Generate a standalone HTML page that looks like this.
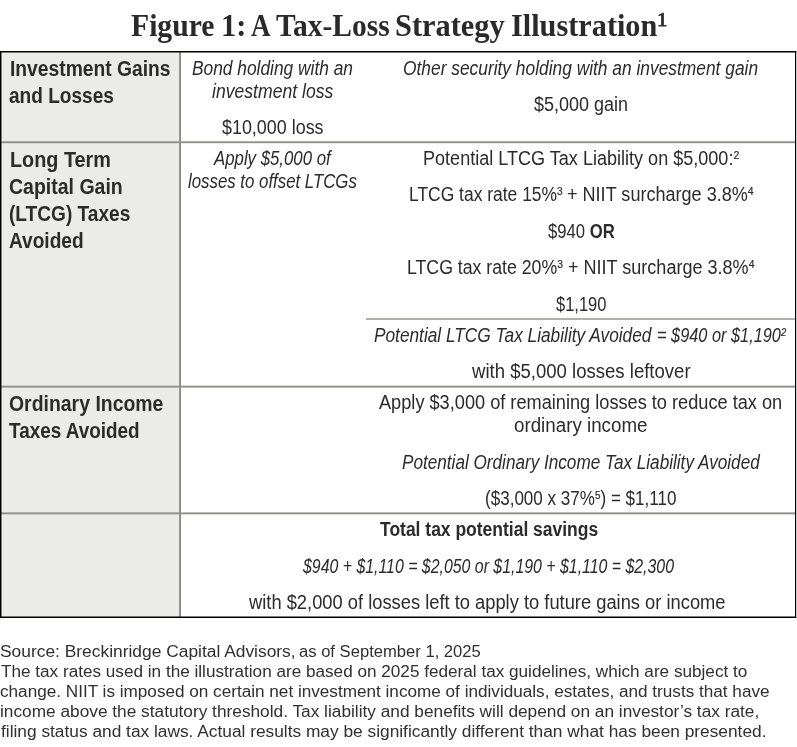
<!DOCTYPE html>
<html lang="en"><head><meta charset="utf-8"><title>Figure 1: A Tax-Loss Strategy Illustration</title>
<style>
html,body{margin:0;padding:0;background:#fff;}
body{width:797px;height:747px;position:relative;overflow:hidden;font-family:"Liberation Sans", Arial, sans-serif;color:#2b2b2b;}
.ln{position:absolute;display:block;white-space:nowrap;transform-origin:0 0;line-height:30px;height:30px;}
.r{font-weight:400;font-style:normal;}
.i{font-style:italic;}
.b{font-weight:700;}
.f{font-weight:400;color:#303030;}
.t{font-family:"Liberation Serif", "Times New Roman", serif;font-weight:700;color:#2a2a2a;}
.ln b{font-weight:700;}
.ln sup{font-size:58%;vertical-align:baseline;position:relative;top:-0.575em;line-height:0;letter-spacing:0;-webkit-text-stroke:0.2px currentColor;}
.t sup{font-size:54%;top:-0.56em;}
.grp{margin:0;padding:0;font-size:16px;font-weight:400;position:static;}
</style></head>
<body>

<svg class="grid" width="797" height="747" viewBox="0 0 797 747" style="position:absolute;left:0;top:0">
<rect x="0" y="52" width="180" height="565.5" fill="#ebebe9"/>
<rect x="179.1" y="52" width="1.9" height="565" fill="#8c8f89"/>
<rect x="0" y="141.3" width="796" height="1.9" fill="#8e918b"/>
<rect x="0" y="385.7" width="796" height="1.9" fill="#8e918b"/>
<rect x="0" y="512.4" width="796" height="1.9" fill="#8e918b"/>
<rect x="366" y="318" width="430" height="2" fill="#afb1ab"/>
<rect x="0" y="51" width="796.2" height="1.5" fill="#000"/>
<rect x="0" y="616.5" width="796.2" height="1.5" fill="#000"/>
<rect x="0" y="51" width="1.45" height="567" fill="#000"/>
<rect x="795" y="51" width="1.2" height="567" fill="#000"/>
</svg>
<h1 class="grp">
<span class="ln t" style="left:131.17px;top:11px;font-size:31px;transform:scaleX(0.9572)">Figure</span>
<span class="ln t" style="left:220.74px;top:11px;font-size:31px;transform:scaleX(0.9832)">1:</span>
<span class="ln t" style="left:251.21px;top:11px;font-size:31px;transform:scaleX(0.8743)">A</span>
<span class="ln t" style="left:276.32px;top:11px;font-size:31px;transform:scaleX(0.9517)">Tax-Loss</span>
<span class="ln t" style="left:395.17px;top:11px;font-size:31px;transform:scaleX(0.9808)">Strategy</span>
<span class="ln t" style="left:511.33px;top:11px;font-size:31px;transform:scaleX(0.9766)">Illustration</span>
<span class="ln t" style="left:656.62px;top:5px;font-size:19px;transform:scaleX(1.0954);font-weight:400;-webkit-text-stroke:0.75px #2a2a2a">1</span>
</h1>
<div class="grp tbl">
<span class="ln b" style="left:9.69px;top:54px;font-size:21.3px;transform:scaleX(0.9042)">Investment Gains</span>
<span class="ln b" style="left:9.19px;top:81px;font-size:21.3px;transform:scaleX(0.8954)">and Losses</span>
<span class="ln b" style="left:9.65px;top:145px;font-size:21.3px;transform:scaleX(0.9309)">Long Term</span>
<span class="ln b" style="left:9.23px;top:172px;font-size:21.3px;transform:scaleX(0.9152)">Capital Gain</span>
<span class="ln b" style="left:9.20px;top:199px;font-size:21.3px;transform:scaleX(0.8966)">(LTCG) Taxes</span>
<span class="ln b" style="left:8.96px;top:226px;font-size:21.3px;transform:scaleX(0.8968)">Avoided</span>
<span class="ln b" style="left:8.83px;top:389px;font-size:21.3px;transform:scaleX(0.9124)">Ordinary Income</span>
<span class="ln b" style="left:9.36px;top:416px;font-size:21.3px;transform:scaleX(0.8880)">Taxes Avoided</span>
<span class="ln i" style="left:192.38px;top:53px;font-size:19.5px;transform:scaleX(0.8893)">Bond holding with an</span>
<span class="ln i" style="left:211.71px;top:76px;font-size:19.5px;transform:scaleX(0.9027)">investment loss</span>
<span class="ln r" style="left:222.27px;top:112px;font-size:19.5px;transform:scaleX(0.9182)">$10,000 loss</span>
<span class="ln i" style="left:402.77px;top:53px;font-size:19.5px;transform:scaleX(0.8901)">Other security holding with an investment gain</span>
<span class="ln r" style="left:534.26px;top:89px;font-size:19.5px;transform:scaleX(0.9233)">$5,000 gain</span>
<span class="ln i" style="left:214.46px;top:143px;font-size:19.5px;transform:scaleX(0.8612)">Apply $5,000 of</span>
<span class="ln i" style="left:188.43px;top:166px;font-size:19.5px;transform:scaleX(0.8623)">losses to offset LTCGs</span>
<span class="ln r" style="left:422.91px;top:143px;font-size:19.5px;transform:scaleX(0.9258)">Potential LTCG Tax Liability on $5,000:<sup>2</sup></span>
<span class="ln r" style="left:408.66px;top:179px;font-size:19.5px;transform:scaleX(0.8948)">LTCG tax rate 15%<sup>3</sup></span>
<span class="ln r" style="left:566.82px;top:179px;font-size:19.5px;transform:scaleX(0.9260)">+ NIIT surcharge 3.8%<sup>4</sup></span>
<span class="ln r" style="left:547.60px;top:216px;font-size:19.5px;transform:scaleX(0.8559)">$940 <b>OR</b></span>
<span class="ln r" style="left:407.44px;top:252px;font-size:19.5px;transform:scaleX(0.9078)">LTCG tax rate 20%<sup>3</sup></span>
<span class="ln r" style="left:567.52px;top:252px;font-size:19.5px;transform:scaleX(0.9250)">+ NIIT surcharge 3.8%<sup>4</sup></span>
<span class="ln r" style="left:555.71px;top:289px;font-size:19.5px;transform:scaleX(0.8460)">$1,190</span>
<span class="ln i" style="left:374.49px;top:320px;font-size:19.5px;transform:scaleX(0.8855)">Potential LTCG Tax Liability Avoided</span>
<span class="ln i" style="left:656.83px;top:320px;font-size:19.5px;transform:scaleX(0.8373)">= $940 or $1,190<sup>2</sup></span>
<span class="ln r" style="left:471.56px;top:356px;font-size:19.5px;transform:scaleX(0.9513)">with $5,000 losses leftover</span>
<span class="ln r" style="left:379.35px;top:387px;font-size:19.5px;transform:scaleX(0.9321)">Apply $3,000 of remaining losses to reduce tax on</span>
<span class="ln r" style="left:514.08px;top:410px;font-size:19.5px;transform:scaleX(0.9619)">ordinary income</span>
<span class="ln i" style="left:401.59px;top:447px;font-size:19.5px;transform:scaleX(0.8793)">Potential Ordinary Income Tax Liability Avoided</span>
<span class="ln r" style="left:485.10px;top:483px;font-size:19.5px;transform:scaleX(0.8746)">($3,000 x 37%<sup>5</sup>) = $1,110</span>
<span class="ln b" style="left:379.57px;top:514px;font-size:19.5px;transform:scaleX(0.8963)">Total tax potential savings</span>
<span class="ln i" style="left:302.51px;top:551px;font-size:19.5px;transform:scaleX(0.8140)">$940 + $1,110 = $2,050 or $1,190 + $1,110 = $2,300</span>
<span class="ln r" style="left:249.37px;top:587px;font-size:19.5px;transform:scaleX(0.9394)">with $2,000 of losses left to apply to future gains or income</span>
</div>
<p class="grp">
<span class="ln f" style="left:0.11px;top:637px;font-size:16px;transform:scaleX(1.0864)">Source: Breckinridge Capital Advisors,</span>
<span class="ln f" style="left:299.08px;top:637px;font-size:16px;transform:scaleX(1.0374)">as of September 1, 2025</span>
<span class="ln f" style="left:0.87px;top:657px;font-size:16px;transform:scaleX(1.0716)">The tax rates used in the illustration are based on 2025 federal tax guidelines, which are subject to</span>
<span class="ln f" style="left:0.14px;top:677px;font-size:16px;transform:scaleX(1.0713)">change. NIIT is imposed on certain net investment income of individuals, estates, and trusts that have</span>
<span class="ln f" style="left:0.06px;top:697px;font-size:16px;transform:scaleX(1.0792)">income above the statutory threshold. Tax liability and benefits will depend on an investor’s tax rate,</span>
<span class="ln f" style="left:0.99px;top:717px;font-size:16px;transform:scaleX(1.0817)">filing status and tax laws. Actual results may be significantly different than what has been presented.</span>
</p>
</body></html>
